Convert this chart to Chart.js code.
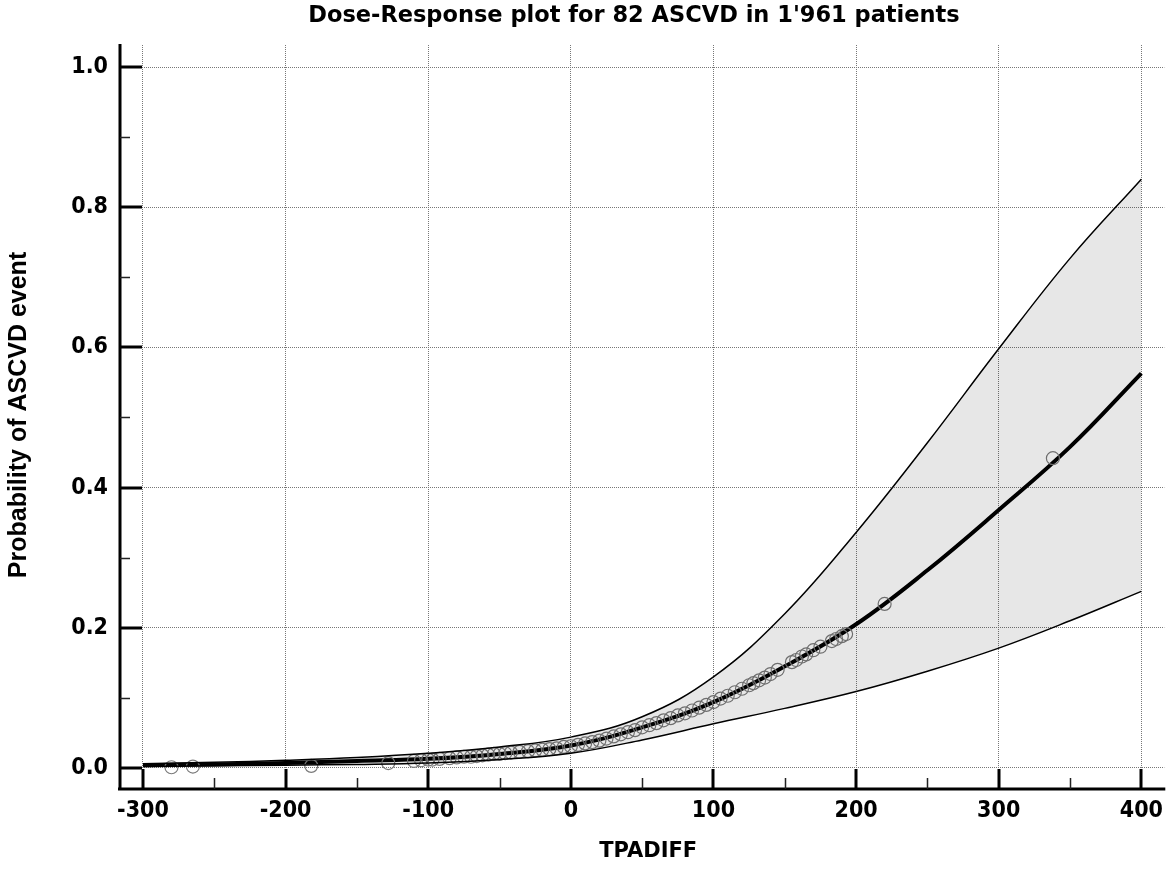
<!DOCTYPE html>
<html>
<head>
<meta charset="utf-8">
<script src="https://cdn.jsdelivr.net/npm/chart.js@4.4.0/dist/chart.umd.min.js"></script>
<style>
  body { margin: 0; background: #fff; }
  #wrap { width: 1172px; height: 871px; }
</style>
</head>
<body>
<div id="wrap"><canvas id="dose-chart" width="1172" height="871"></canvas></div>
<script>
// values
const curveX = [-300, -250, -200, -150, -100, -50, 0, 50, 100, 150, 200, 250, 300, 350, 400];
const fitted = [0.004, 0.005, 0.007, 0.010, 0.013, 0.020, 0.032, 0.058, 0.094, 0.145, 0.205, 0.282, 0.368, 0.458, 0.563];
const upperCI = [0.006, 0.008, 0.011, 0.015, 0.021, 0.030, 0.044, 0.073, 0.130, 0.220, 0.336, 0.464, 0.598, 0.727, 0.840];
const lowerCI = [0.002, 0.003, 0.004, 0.005, 0.007, 0.012, 0.021, 0.040, 0.063, 0.085, 0.109, 0.138, 0.171, 0.210, 0.252];

const obsX = [-280, -265, -182, -128, -110, -105, -100, -97, -92, -85, -80, -75, -70, -66, -62, -58, -54, -50, -46, -42,
  -36, -30, -25, -20, -15, -10, -5, 0, 5, 10, 15, 20, 25, 30, 35, 40, 45, 50, 55, 60,
  65, 70, 75, 80, 85, 90, 95, 100, 105, 110, 115, 120, 125, 128, 132, 136, 140, 145,
  155, 158, 162, 165, 170, 175, 183, 186, 190, 193, 220, 338];
const obsY = [0.001, 0.002, 0.003, 0.007, 0.010, 0.011, 0.012, 0.012, 0.013, 0.014, 0.015, 0.016, 0.016, 0.017, 0.018, 0.019, 0.020, 0.020, 0.021, 0.022,
  0.023, 0.024, 0.025, 0.026, 0.027, 0.028, 0.030, 0.031, 0.033, 0.035, 0.037, 0.039, 0.042, 0.045, 0.048, 0.051, 0.054, 0.058, 0.061, 0.064,
  0.068, 0.071, 0.075, 0.078, 0.082, 0.086, 0.090, 0.094, 0.099, 0.103, 0.108, 0.113, 0.118, 0.121, 0.125, 0.129, 0.134, 0.140,
  0.151, 0.154, 0.159, 0.162, 0.168, 0.173, 0.181, 0.184, 0.188, 0.191, 0.234, 0.442];

const xTicks = [-300, -200, -100, 0, 100, 200, 300, 400];
const xMinor = [-250, -150, -50, 50, 150, 250, 350];
const yTicks = [0, 0.2, 0.4, 0.6, 0.8, 1.0];
const yMinor = [0.1, 0.3, 0.5, 0.7, 0.9];

const tickFont = '"DejaVu Sans Condensed", "Liberation Sans Narrow", "DejaVu Sans", sans-serif';
const wideFont = '"DejaVu Sans", sans-serif';

const toPts = (xs, ys) => xs.map((x, i) => ({ x: x, y: ys[i] }));

// axes drawn by hand: ticks point inward like the original
const axisDeco = {
  id: 'axisDeco',
  afterDatasetsDraw(chart) {
    const { ctx, chartArea: a, scales: { x, y } } = chart;
    ctx.save();
    ctx.strokeStyle = '#000';
    ctx.lineCap = 'butt';
    ctx.lineWidth = 3;
    ctx.beginPath();
    ctx.moveTo(a.left, a.top - 1);
    ctx.lineTo(a.left, a.bottom + 1.5);
    ctx.moveTo(a.left - 2, a.bottom);
    ctx.lineTo(a.right + 1, a.bottom);
    ctx.stroke();

    ctx.beginPath();
    xTicks.forEach(v => {
      const px = Math.round(x.getPixelForValue(v));
      ctx.moveTo(px, a.bottom);
      ctx.lineTo(px, a.bottom - 20);
    });
    yTicks.forEach(v => {
      const py = Math.round(y.getPixelForValue(v));
      ctx.moveTo(a.left, py);
      ctx.lineTo(a.left + 22, py);
    });
    ctx.stroke();

    ctx.lineWidth = 1.5;
    ctx.strokeStyle = '#222';
    ctx.beginPath();
    xMinor.forEach(v => {
      const px = Math.round(x.getPixelForValue(v)) + 0.5;
      ctx.moveTo(px, a.bottom);
      ctx.lineTo(px, a.bottom - 11);
    });
    yMinor.forEach(v => {
      const py = Math.round(y.getPixelForValue(v)) + 0.5;
      ctx.moveTo(a.left, py);
      ctx.lineTo(a.left + 10, py);
    });
    ctx.stroke();

    // titles
    ctx.fillStyle = '#000';
    ctx.textAlign = 'center';
    ctx.textBaseline = 'middle';
    ctx.font = 'bold 22.5px ' + wideFont;
    ctx.fillText("Dose-Response plot for 82 ASCVD in 1'961 patients", 634, 16);
    ctx.font = 'bold 21px ' + wideFont;
    ctx.fillText('TPADIFF', (a.left + a.right) / 2 + 6, 852);
    ctx.translate(19, 415);
    ctx.rotate(-Math.PI / 2);
    ctx.font = 'bold 25px "Liberation Sans", Arial, sans-serif';
    ctx.fillText('Probability of ASCVD event', 0, 0);
    ctx.restore();
  }
};

const chart = new Chart(document.getElementById('dose-chart'), {
  type: 'scatter',
  data: {
    datasets: [
      {
        label: 'upper',
        data: toPts(curveX, upperCI),
        showLine: true,
        borderColor: '#000',
        borderWidth: 1.5,
        pointRadius: 0,
        tension: 0.4,
        fill: 1,
        backgroundColor: 'rgba(0,0,0,0.095)'
      },
      {
        label: 'lower',
        data: toPts(curveX, lowerCI),
        showLine: true,
        borderColor: '#000',
        borderWidth: 1.5,
        pointRadius: 0,
        tension: 0.4,
        fill: false
      },
      {
        label: 'observed',
        data: toPts(obsX, obsY),
        showLine: false,
        pointRadius: 6.5,
        pointBorderWidth: 1.2,
        borderColor: '#7a7a7a',
        backgroundColor: 'rgba(0,0,0,0)'
      },
      {
        label: 'fitted',
        data: toPts(curveX, fitted),
        showLine: true,
        borderColor: '#000',
        borderWidth: 4,
        pointRadius: 0,
        tension: 0.4,
        fill: false
      }
    ]
  },
  options: {
    responsive: false,
    devicePixelRatio: 1,
    animation: false,
    layout: { padding: { top: 45, right: 6, left: 0, bottom: 0 } },
    plugins: {
      legend: { display: false },
      tooltip: { enabled: false },
      title: { display: false }
    },
    scales: {
      x: {
        type: 'linear',
        min: -316.1,
        max: 416.1,
        afterBuildTicks: s => { s.ticks = xTicks.map(v => ({ value: v })); },
        afterFit: s => { s.height = 82; },
        grid: { color: '#777', lineWidth: 1, drawTicks: false },
        border: { display: false, dash: [1, 1] },
        ticks: {
          padding: 8,
          color: '#000',
          font: { family: tickFont, size: 23, weight: 'bold' },
          callback: v => String(v)
        }
      },
      y: {
        type: 'linear',
        min: -0.030,
        max: 1.0314,
        afterBuildTicks: s => { s.ticks = yTicks.map(v => ({ value: v })); },
        afterFit: s => { s.width = 120; },
        grid: { color: '#777', lineWidth: 1, drawTicks: false },
        border: { display: false, dash: [1, 1] },
        ticks: {
          padding: 12,
          color: '#000',
          font: { family: tickFont, size: 23, weight: 'bold' },
          callback: v => v.toFixed(1)
        }
      }
    }
  },
  plugins: [axisDeco]
});
</script>
</body>
</html>
